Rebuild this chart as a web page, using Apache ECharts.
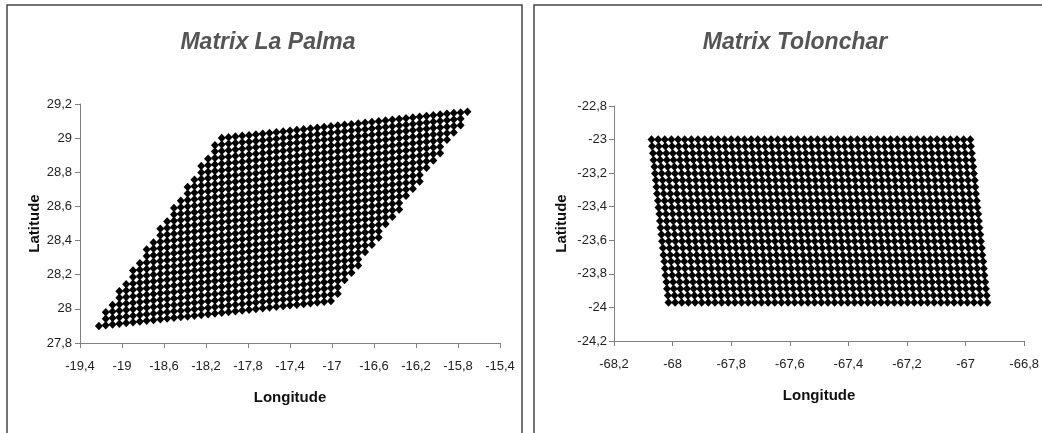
<!DOCTYPE html>
<html><head><meta charset="utf-8">
<script src="https://cdn.jsdelivr.net/npm/echarts@6/dist/echarts.min.js"></script>
<style>html,body{margin:0;padding:0;background:#fff}#c{width:1042px;height:433px}</style>
</head><body><div id="c"></div>
<script>
// ---- Matrix La Palma: grid columns (longitude), rows (latitude at first column), column range per row ----
const laPalmaColLon = [-19.220,-19.155,-19.090,-19.025,-18.960,-18.895,-18.830,-18.765,-18.700,-18.635,
  -18.570,-18.505,-18.440,-18.375,-18.310,-18.245,-18.180,-18.115,-18.050,-17.985,
  -17.920,-17.855,-17.790,-17.725,-17.660,-17.595,-17.530,-17.465,-17.400,-17.335,
  -17.270,-17.205,-17.140,-17.075,-17.010,-16.945,-16.880,-16.815,-16.750,-16.685,
  -16.620,-16.555,-16.490,-16.425,-16.360,-16.295,-16.230,-16.165,-16.100,-16.035,
  -15.970,-15.905,-15.840,-15.775,-15.710];
const laPalmaRowLat = [27.900,27.938,27.976,28.014,28.052,28.090,28.127,28.165,28.203,28.241,
  28.279,28.317,28.355,28.393,28.431,28.469,28.506,28.544,28.582,28.620,
  28.658,28.696,28.734,28.772,28.810,28.848,28.885,28.923];
const laPalmaRowFirst = [0,1,1,2,3,3,4,5,5,6,7,7,8,9,9,10,11,11,12,13,13,14,15,15,16,17,17,18];
const laPalmaRowLast  = [34,35,35,36,37,38,38,39,40,41,41,42,43,44,44,45,46,47,47,48,49,50,50,51,52,53,53,54];
const laPalmaRowTilt = 0.0043;   // latitude rise per column along a row
const laPalmaLonTicks = [-19.4,-19,-18.6,-18.2,-17.8,-17.4,-17,-16.6,-16.2,-15.8,-15.4];
const laPalmaLatTicks = [27.8,28,28.2,28.4,28.6,28.8,29,29.2];

// ---- Matrix Tolonchar: each row = start point + number of points, fixed step along the row ----
const tolRowLon = [-68.072,-68.070,-68.067,-68.065,-68.062,-68.060,-68.057,-68.055,-68.053,-68.050,-68.048,-68.045,-68.043,-68.041,-68.038,-68.036,-68.033,-68.031,-68.028,-68.026,-68.024,-68.021,-68.019,-68.016,-68.014];
const tolRowLat = [-23.000,-23.040,-23.081,-23.121,-23.162,-23.202,-23.242,-23.283,-23.323,-23.364,-23.404,-23.444,-23.485,-23.525,-23.566,-23.606,-23.646,-23.687,-23.727,-23.768,-23.808,-23.848,-23.889,-23.929,-23.970];
const tolRowCount = [49,49,49,49,49,49,49,49,49,49,49,49,49,49,49,49,49,49,49,49,49,49,49,49,49];
const tolStepLon = 0.02267;
const tolLonTicks = [-68.2,-68,-67.8,-67.6,-67.4,-67.2,-67,-66.8];
const tolLatTicks = [-24.2,-24,-23.8,-23.6,-23.4,-23.2,-23,-22.8];

function buildLaPalma() {
  const pts = [];
  for (let j = 0; j < laPalmaRowLat.length; j++) {
    for (let i = laPalmaRowFirst[j]; i <= laPalmaRowLast[j]; i++) {
      pts.push([laPalmaColLon[i], +(laPalmaRowLat[j] + i * laPalmaRowTilt).toFixed(4)]);
    }
  }
  return pts;
}
function buildTolonchar() {
  const pts = [];
  for (let j = 0; j < tolRowLon.length; j++) {
    for (let k = 0; k < tolRowCount[j]; k++) {
      pts.push([+(tolRowLon[j] + k * tolStepLon).toFixed(4), tolRowLat[j]]);
    }
  }
  return pts;
}

const FONT = '"Liberation Sans",Arial,sans-serif';
const fmt = v => String(+(+v).toFixed(1)).replace('.', ',');

function xAx(gi, ticks, gap) {
  return {
    gridIndex: gi, type: 'value', min: ticks[0], max: ticks[ticks.length - 1],
    name: 'Longitude', nameLocation: 'middle', nameGap: gap,
    nameTextStyle: { fontFamily: FONT, fontWeight: 'bold', fontSize: 15, color: '#111' },
    axisLine: { show: true, onZero: false, lineStyle: { color: '#808080', width: 1 } },
    axisTick: { show: true, inside: false, length: 5, customValues: ticks, lineStyle: { color: '#808080' } },
    axisLabel: { customValues: ticks, formatter: fmt, margin: 17, fontFamily: FONT, fontSize: 13, color: '#222' },
    splitLine: { show: false }
  };
}
function yAx(gi, ticks, gap, margin) {
  return {
    gridIndex: gi, type: 'value', min: ticks[0], max: ticks[ticks.length - 1],
    name: 'Latitude', nameLocation: 'middle', nameGap: gap, nameRotate: 90,
    nameTextStyle: { fontFamily: FONT, fontWeight: 'bold', fontSize: 15, color: '#111' },
    axisLine: { show: true, onZero: false, lineStyle: { color: '#808080', width: 1 } },
    axisTick: { show: true, inside: false, length: 5, customValues: ticks, lineStyle: { color: '#808080' } },
    axisLabel: { customValues: ticks, formatter: fmt, margin: margin, fontFamily: FONT, fontSize: 13, color: '#222' },
    splitLine: { show: false }
  };
}

const chart = echarts.init(document.getElementById('c'), null, { renderer: 'canvas' });
const titleStyle = { fontFamily: FONT, fontWeight: 'bold', fontStyle: 'italic', fontSize: 23, color: '#555' };
chart.setOption({
  animation: false,
  backgroundColor: '#fff',
  title: [
    { text: 'Matrix La Palma', left: 263, top: 26, textAlign: 'center', textStyle: titleStyle },
    { text: 'Matrix Tolonchar', left: 790, top: 26, textAlign: 'center', textStyle: titleStyle }
  ],
  graphic: [
    { type: 'rect', shape: { x: 7, y: 5, width: 515, height: 450 }, style: { fill: 'none', stroke: '#444', lineWidth: 1.5 }, silent: true },
    { type: 'rect', shape: { x: 534, y: 5, width: 530, height: 450 }, style: { fill: 'none', stroke: '#444', lineWidth: 1.5 }, silent: true }
  ],
  grid: [
    { left: 80, top: 104, width: 420, height: 239 },
    { left: 614, top: 106, width: 413, height: 235 }
  ],
  xAxis: [xAx(0, laPalmaLonTicks, 47), xAx(1, tolLonTicks, 47)],
  yAxis: [yAx(0, laPalmaLatTicks, 38, 8), yAx(1, tolLatTicks, 45, 7)],
  series: [
    { type: 'scatter', xAxisIndex: 0, yAxisIndex: 0, symbol: 'diamond', symbolSize: [8, 8.5],
      itemStyle: { color: '#000', opacity: 1 }, data: buildLaPalma() },
    { type: 'scatter', xAxisIndex: 1, yAxisIndex: 1, symbol: 'diamond', symbolSize: [8, 8.5],
      itemStyle: { color: '#000', opacity: 1 }, data: buildTolonchar() }
  ]
});
</script>
</body></html>
